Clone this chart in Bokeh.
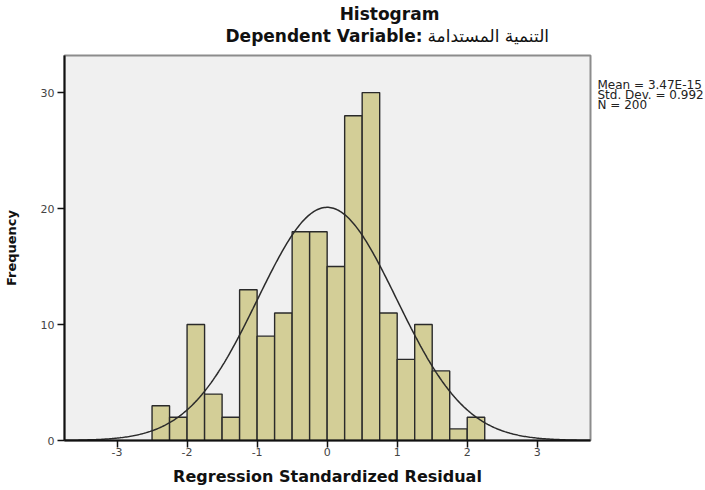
import numpy as np
from bokeh.plotting import figure
from bokeh.models import Range1d, FixedTicker, Label
from bokeh.layouts import column, row
from bokeh.embed import file_html
from bokeh.resources import INLINE

# ---- data ----
bin_left = [-2.5, -2.25, -2.0, -1.75, -1.5, -1.25, -1.0, -0.75, -0.5, -0.25,
            0.0, 0.25, 0.5, 0.75, 1.0, 1.25, 1.5, 1.75, 2.0]
bin_right = [-2.25, -2.0, -1.75, -1.5, -1.25, -1.0, -0.75, -0.5, -0.25, 0.0,
             0.25, 0.5, 0.75, 1.0, 1.25, 1.5, 1.75, 2.0, 2.25]
counts = [3, 2, 10, 4, 2, 13, 9, 11, 18, 18, 15, 28, 30, 11, 7, 10, 6, 1, 2]
mean_val = 3.47e-15
std_dev = 0.992
n_obs = 200
bin_width = 0.25
x_ticks = [-3, -2, -1, 0, 1, 2, 3]
y_ticks = [0, 10, 20, 30]
stats_lines = ["Mean = 3.47E-15", "Std. Dev. = 0.992", "N = 200"]
title_text = "Histogram"
subtitle_en = "Dependent Variable:"
subtitle_ar = "التنمية المستدامة"
x_label = "Regression Standardized Residual"
y_label = "Frequency"

# ---- layout (pixels) ----
TOTAL_W, TOTAL_H = 705, 490
TOP_H = 53                       # title strip height
MAIN_W = 592
MAIN_H = TOTAL_H - TOP_H
SIDE_W = TOTAL_W - MAIN_W
FL, FR, FT, FB = 61, 590, 2, 387   # frame edges inside main figure
X0, X1 = -3.75, 3.76
Y0, Y1 = 0.0, 33.2


def text_figure(w, h):
    f = figure(width=w, height=h, output_backend="svg", toolbar_location=None,
               x_range=Range1d(0, w), y_range=Range1d(0, h),
               x_axis_location=None, y_axis_location=None,
               min_border_left=0, min_border_right=0,
               min_border_top=0, min_border_bottom=0)
    f.outline_line_color = None
    f.background_fill_color = "white"
    f.border_fill_color = "white"
    f.grid.visible = False
    return f


# ---- title strip ----
t = text_figure(TOTAL_W, TOP_H)
t.add_layout(Label(x=389, y=TOP_H - 13, text=title_text, text_align="center",
                   text_baseline="alphabetic", text_font="DejaVu Sans",
                   text_font_style="bold", text_font_size="17px", text_color="#111111"))
t.add_layout(Label(x=422, y=TOP_H - 35, text=subtitle_en, text_align="right",
                   text_baseline="alphabetic", text_font="DejaVu Sans",
                   text_font_style="bold", text_font_size="17px", text_color="#111111"))
t.add_layout(Label(x=427, y=TOP_H - 35, text=subtitle_ar, text_align="left",
                   text_baseline="alphabetic", text_font="DejaVu Sans",
                   text_font_size="17px", text_color="#111111"))

# ---- main histogram ----
p = figure(width=MAIN_W, height=MAIN_H, output_backend="svg", toolbar_location=None,
           x_range=Range1d(X0, X1), y_range=Range1d(Y0, Y1),
           min_border_left=FL, min_border_right=MAIN_W - FR,
           min_border_top=FT, min_border_bottom=MAIN_H - FB)
p.background_fill_color = "#F0F0F0"
p.border_fill_color = "white"
p.outline_line_color = "#8c8c8c"
p.outline_line_width = 2
p.grid.visible = False

p.quad(left=bin_left, right=bin_right, bottom=0, top=counts,
       fill_color="#D3CE97", line_color="#2a2a2a", line_width=1.4)

xs = np.linspace(X0, X1, 400)
ys = n_obs * bin_width * np.exp(-0.5 * ((xs - mean_val) / std_dev) ** 2) / (std_dev * np.sqrt(2 * np.pi))
p.line(xs, ys, line_color="#2b2b2b", line_width=1.5)

for ax in (p.xaxis[0], p.yaxis[0]):
    ax.axis_line_color = "#111111"
    ax.axis_line_width = 2
    ax.major_tick_line_color = "#111111"
    ax.major_tick_line_width = 1.5
    ax.major_tick_out = 7
    ax.major_tick_in = 0
    ax.minor_tick_line_color = None
    ax.major_label_text_font = "DejaVu Sans"
    ax.major_label_text_font_size = "11px"
    ax.major_label_text_color = "#444444"
    ax.axis_label_text_font = "DejaVu Sans"
    ax.axis_label_text_font_style = "bold"
    ax.axis_label_text_color = "#111111"

p.xaxis.ticker = FixedTicker(ticks=x_ticks)
p.yaxis.ticker = FixedTicker(ticks=y_ticks)
p.xaxis.major_label_overrides = {t_: str(t_) for t_ in x_ticks}
p.yaxis.major_label_overrides = {t_: str(t_) for t_ in y_ticks}
p.xaxis.axis_label = x_label
p.yaxis.axis_label = y_label
p.xaxis.axis_label_text_font_size = "16px"
p.yaxis.axis_label_text_font_size = "13px"
p.xaxis.major_label_standoff = 0
p.yaxis.major_label_standoff = 3
p.xaxis.axis_label_standoff = 8
p.yaxis.axis_label_standoff = 19

# ---- side strip with statistics ----
s = text_figure(SIDE_W, MAIN_H)
for i, line in enumerate(stats_lines):
    s.add_layout(Label(x=5, y=MAIN_H - (34 + 11 * i), text=line, text_align="left",
                       text_baseline="alphabetic", text_font="DejaVu Sans",
                       text_font_size="12px", text_color="#222222"))

layout = column(t, row(p, s))
open("out.html", "w").write(file_html(layout, INLINE))
